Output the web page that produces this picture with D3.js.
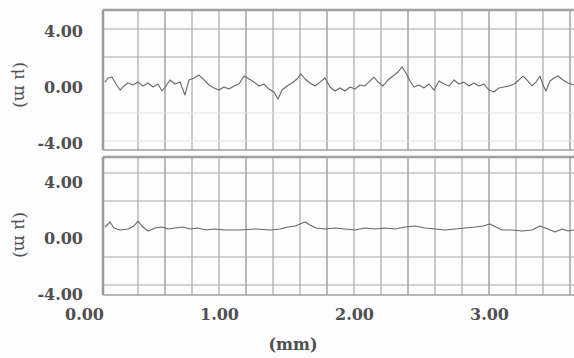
<!DOCTYPE html>
<html>
<head>
<meta charset="utf-8">
<script src="https://cdn.jsdelivr.net/npm/d3@7"></script>
<style>
  html, body { margin: 0; padding: 0; background: #fdfdfd; }
  svg { display: block; }
  .tick text { font-family: 'DejaVu Serif', serif; }
</style>
</head>
<body>
<svg id="chart" width="574" height="358"></svg>
<script>
// tick labels
const xTicks = [0, 1, 2, 3];
const yTicks = [4, 0, -4];
const gridX = [0.4, 0.6, 0.8, 1.0, 1.2, 1.4, 1.6, 1.8, 2.0, 2.2, 2.4, 2.6, 2.8, 3.0, 3.2, 3.4, 3.6];
const gridY = [4, 2, -2, -4];
const xUnit = '(mm)';
const yUnit = '(μ m)';

// profile 1 (upper): [position mm, height μm]
const upperProfile = [
  [0.156, 0.21], [0.178, 0.5], [0.207, 0.57], [0.237, 0.07], [0.267, -0.36], [0.296, -0.07],
  [0.326, 0.14], [0.363, 0], [0.4, 0.21], [0.437, -0.07], [0.474, 0.14], [0.511, -0.14],
  [0.548, 0.07], [0.578, -0.43], [0.607, -0.07], [0.637, 0.36], [0.674, 0.07], [0.711, 0.21],
  [0.748, -0.71], [0.778, 0.36], [0.815, 0.5], [0.852, 0.71], [0.889, 0.36], [0.926, 0],
  [0.963, -0.21], [1.0, -0.36], [1.037, -0.14], [1.074, -0.29], [1.111, -0.07], [1.148, 0.07],
  [1.185, 0.64], [1.222, 0.43], [1.259, 0.21], [1.296, -0.07], [1.333, 0.07], [1.37, -0.29],
  [1.407, -0.5], [1.437, -1.0], [1.467, -0.36], [1.504, -0.07], [1.541, 0.14], [1.578, 0.43],
  [1.607, 0.79], [1.637, 0.43], [1.674, 0.14], [1.711, -0.07], [1.748, 0.21], [1.785, 0.5],
  [1.822, -0.14], [1.859, -0.43], [1.896, -0.21], [1.933, -0.43], [1.97, -0.14], [2.007, -0.29],
  [2.044, 0], [2.081, -0.07], [2.119, 0.29], [2.148, 0.57], [2.178, 0.21], [2.215, -0.07],
  [2.252, 0.36], [2.289, 0.64], [2.326, 0.93], [2.356, 1.29], [2.385, 0.86], [2.415, 0.29],
  [2.444, -0.14], [2.481, 0], [2.519, -0.21], [2.556, 0.07], [2.593, -0.36], [2.63, 0.29],
  [2.667, 0.07], [2.704, -0.07], [2.741, 0.36], [2.778, 0.07], [2.815, 0.21], [2.852, -0.07],
  [2.889, 0.14], [2.926, -0.07], [2.963, 0.07], [3.0, -0.36], [3.037, -0.5], [3.074, -0.21],
  [3.111, -0.14], [3.148, -0.07], [3.185, 0.07], [3.222, 0.36], [3.252, 0.64], [3.281, 0.36],
  [3.319, -0.07], [3.348, 0.21], [3.378, 0.64], [3.4, 0], [3.422, -0.43], [3.452, 0.29],
  [3.481, 0.5], [3.511, 0.64], [3.548, 0.36], [3.585, 0.14], [3.63, 0]
];

// profile 2 (lower)
const lowerProfile = [
  [0.156, 0.14], [0.193, 0.5], [0.222, 0.07], [0.267, -0.07], [0.326, 0], [0.37, 0.21],
  [0.4, 0.57], [0.437, 0.14], [0.474, -0.14], [0.526, 0.07], [0.578, 0.14], [0.622, 0],
  [0.674, 0.07], [0.733, 0.14], [0.785, 0], [0.844, 0.07], [0.904, -0.07], [0.963, 0],
  [1.044, -0.07], [1.156, -0.07], [1.267, 0], [1.378, -0.07], [1.452, 0], [1.511, 0.14],
  [1.563, 0.21], [1.6, 0.36], [1.637, 0.5], [1.674, 0.29], [1.719, 0.07], [1.785, 0],
  [1.859, 0.07], [1.933, 0], [2.007, -0.07], [2.081, 0.07], [2.156, 0], [2.23, 0.07],
  [2.304, 0], [2.378, 0.14], [2.452, 0.21], [2.526, 0.07], [2.6, 0], [2.674, -0.07],
  [2.748, 0], [2.822, 0.07], [2.896, 0.14], [2.956, 0.21], [3.007, 0.36], [3.052, 0.14],
  [3.096, -0.07], [3.17, -0.07], [3.244, -0.14], [3.319, -0.07], [3.378, 0.21], [3.437, 0],
  [3.489, -0.21], [3.541, 0], [3.585, -0.14], [3.63, -0.07]
];

const svg = d3.select('#chart');
const W = 574, H = 358;
const frameLeft = 103;
const textColor = '#505050';
const gridColor = '#a8a8a8';
const fmt = d => d3.format('.2f')(d).replace('\u2212', '-');

svg.append('rect').attr('width', W).attr('height', H).attr('fill', '#fdfdfd');

const x = d3.scaleLinear().domain([0, 3]).range([84, 489]);

const panels = [
  { data: upperProfile, top: 10, bottom: 150, y: d3.scaleLinear().domain([-4, 4]).range([141, 29]), labelShift: 2, unitY: 85, faintLow: true },
  { data: lowerProfile, top: 157, bottom: 295, y: d3.scaleLinear().domain([-4, 4]).range([285, 173]), labelShift: 9, unitY: 235, faintLow: false }
];

panels.forEach(p => {
  const g = svg.append('g');

  // grid
  g.selectAll('.vgrid')
    .data(gridX)
    .enter().append('line')
    .attr('x1', d => x(d)).attr('x2', d => x(d))
    .attr('y1', p.top).attr('y2', p.bottom)
    .attr('stroke', (d, i) => i % 3 === 1 ? '#8e8e8e' : gridColor)
    .attr('stroke-width', 1.2);

  g.selectAll('.hgrid')
    .data(gridY)
    .enter().append('line')
    .attr('x1', frameLeft).attr('x2', W)
    .attr('y1', d => p.y(d)).attr('y2', d => p.y(d))
    .attr('stroke', d => (p.faintLow && d < 0) ? '#e4e4e4' : gridColor)
    .attr('stroke-width', 1.2);

  // frame
  g.append('line')
    .attr('x1', frameLeft).attr('x2', frameLeft)
    .attr('y1', p.top).attr('y2', p.bottom)
    .attr('stroke', '#9a9a9a').attr('stroke-width', 2.5);
  g.append('line')
    .attr('x1', frameLeft).attr('x2', W)
    .attr('y1', p.top).attr('y2', p.top)
    .attr('stroke', '#a0a0a0').attr('stroke-width', 2.5);
  g.append('line')
    .attr('x1', frameLeft).attr('x2', W)
    .attr('y1', p.bottom).attr('y2', p.bottom)
    .attr('stroke', '#a0a0a0').attr('stroke-width', 1.5);

  // profile trace
  const line = d3.line()
    .x(d => x(d[0]))
    .y(d => p.y(d[1]));

  g.append('path')
    .datum(p.data)
    .attr('d', line)
    .attr('fill', 'none')
    .attr('stroke', '#666')
    .attr('stroke-width', 1.1)
    .attr('stroke-linejoin', 'round');

  // y axis labels
  const yAxis = g.append('g')
    .attr('transform', `translate(${frameLeft},0)`)
    .call(d3.axisLeft(p.y).tickValues(yTicks).tickSize(0).tickPadding(20).tickFormat(fmt));
  yAxis.select('.domain').remove();
  yAxis.selectAll('text')
    .attr('fill', textColor)
    .attr('dy', `${p.labelShift + 5.5}px`)
    .style('font-size', '16px')
    .style('font-weight', 'bold');

  // unit label
  svg.append('text')
    .attr('transform', `translate(15,${p.unitY}) rotate(90)`)
    .attr('text-anchor', 'middle')
    .attr('fill', textColor)
    .style('font-family', 'DejaVu Serif, serif')
    .style('font-size', '17px')
    .text(yUnit);
});

// x axis labels
const xAxis = svg.append('g')
  .attr('transform', 'translate(0,295)')
  .call(d3.axisBottom(x).tickValues(xTicks).tickSize(0).tickPadding(14).tickFormat(fmt));
xAxis.select('.domain').remove();
xAxis.selectAll('text')
  .attr('fill', textColor)
  .style('font-size', '16px')
  .style('font-weight', 'bold');

svg.append('text')
  .attr('x', 293)
  .attr('y', 350)
  .attr('text-anchor', 'middle')
  .attr('fill', textColor)
  .style('font-family', 'DejaVu Serif, serif')
  .style('font-size', '16px')
  .style('font-weight', 'bold')
  .text(xUnit);
</script>
</body>
</html>
